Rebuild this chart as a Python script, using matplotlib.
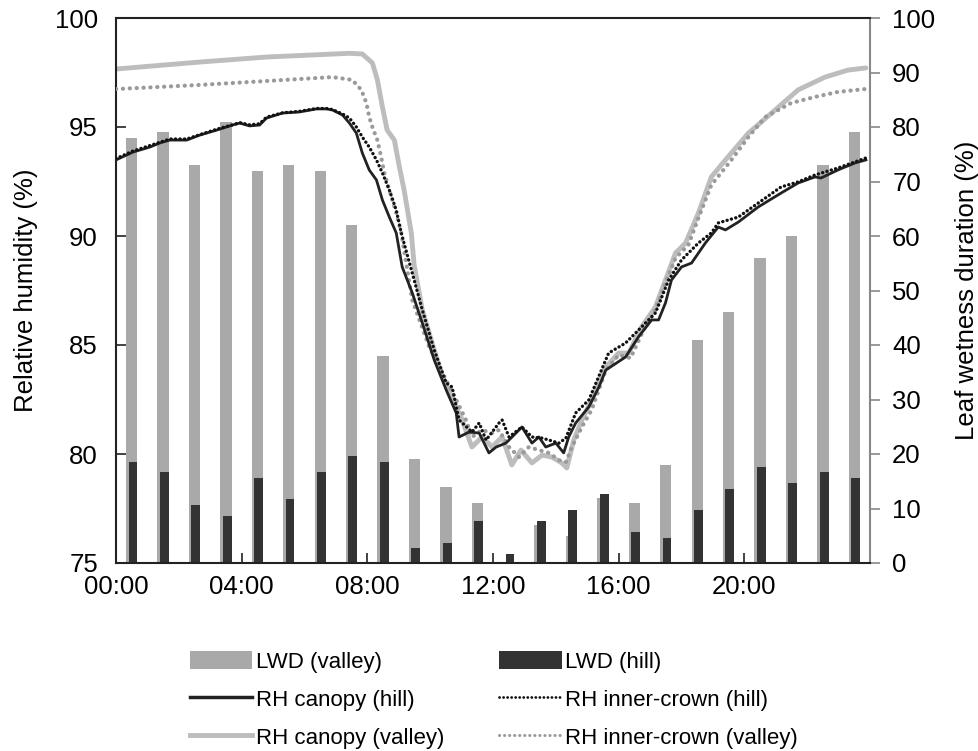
import matplotlib
matplotlib.use("Agg")
import matplotlib.pyplot as plt
from matplotlib.patches import Patch
from matplotlib.lines import Line2D
import numpy as np

plt.rcParams['font.family'] = ['Liberation Sans', 'DejaVu Sans']

# ---- data ----
hours = list(range(24))
lwd_valley = [78, 79, 73, 81, 72, 73, 72, 62, 38, 19, 14, 11, 0, 7, 5, 12,
              11, 18, 41, 46, 56, 60, 73, 79]
lwd_hill = [18.5, 16.7, 10.6, 8.6, 15.6, 11.7, 16.7, 19.6, 18.5, 2.7, 3.7, 7.7,
            1.7, 7.7, 9.7, 12.7, 5.7, 4.6, 9.7, 13.6, 17.6, 14.7, 16.7, 15.6]

# RH canopy (valley)
t_cv = [0, 2.67, 4.79, 7.43, 7.84, 8.16, 8.32, 8.48, 8.63, 8.86, 9.02, 9.17, 9.40,
        9.49, 9.75, 10.06, 10.35, 10.67, 10.98, 11.33, 11.65, 11.97, 12.29, 12.60,
        12.89, 13.24, 13.56, 13.87, 14.19, 14.35, 14.57, 14.83, 15.14, 15.59, 16.00,
        16.32, 16.73, 17.17, 17.49, 17.81, 18.13, 18.54, 18.95, 19.40, 20.13, 20.98,
        21.71, 22.57, 23.30, 23.87]
rh_cv = [97.66, 97.98, 98.21, 98.38, 98.35, 97.94, 97.16, 95.92, 94.86, 94.40, 93.17,
         92.11, 90.14, 88.67, 86.61, 85.09, 83.72, 82.61, 81.70, 80.32, 80.78, 80.32,
         80.78, 79.50, 80.18, 79.59, 79.95, 79.86, 79.59, 79.36, 80.64, 81.56, 82.48,
         83.99, 84.63, 84.63, 85.83, 86.74, 87.98, 89.22, 89.68, 91.06, 92.71, 93.49,
         94.72, 95.78, 96.70, 97.29, 97.61, 97.71]

# RH inner-crown (valley)
t_iv = [0, 2.67, 4.79, 6.89, 7.52, 7.81, 7.97, 8.06, 8.16, 8.32, 8.44, 8.54, 8.70,
        8.92, 9.08, 9.43, 9.97, 10.51, 10.83, 11.14, 11.33, 11.65, 11.97, 12.19, 12.51,
        12.83, 13.14, 13.46, 13.78, 14.10, 14.32, 14.51, 14.83, 15.14, 15.59, 16.00,
        16.38, 16.79, 17.17, 17.49, 17.81, 18.22, 18.54, 18.95, 19.59, 20.13, 20.67,
        21.49, 22.25, 22.98, 23.84]
rh_iv = [96.74, 96.93, 97.11, 97.29, 97.16, 96.70, 96.10, 95.46, 95.00, 94.40, 93.62,
         92.89, 92.11, 91.06, 90.14, 87.06, 84.91, 83.39, 82.48, 81.56, 80.78, 81.10,
         80.96, 81.10, 80.32, 79.86, 80.32, 80.18, 80.05, 79.72, 79.63, 80.32, 81.24,
         82.02, 83.85, 84.54, 84.40, 85.69, 86.61, 87.84, 88.99, 89.59, 90.83, 92.34,
         93.49, 94.54, 95.46, 96.10, 96.38, 96.61, 96.74]

# RH canopy (hill)
t_ch = [0, 0.54, 1.08, 1.40, 1.71, 2.25, 2.67, 3.21, 3.71, 3.94, 4.25, 4.57, 4.79,
        5.30, 5.84, 6.38, 6.70, 6.89, 7.21, 7.43, 7.65, 7.84, 8.06, 8.29, 8.48, 8.70,
        8.92, 9.11, 9.43, 9.75, 10.13, 10.51, 10.83, 10.92, 11.24, 11.56, 11.87, 12.10,
        12.41, 12.73, 12.92, 13.24, 13.46, 13.68, 14.00, 14.25, 14.41, 14.63, 15.05,
        15.37, 15.59, 16.22, 16.63, 17.05, 17.27, 17.49, 17.68, 18.00, 18.32, 18.76,
        19.17, 19.40, 19.81, 20.44, 21.17, 21.71, 22.25, 22.44, 22.98, 23.52, 23.87]
rh_ch = [93.49, 93.85, 94.08, 94.27, 94.40, 94.40, 94.63, 94.86, 95.09, 95.18, 95.05,
         95.09, 95.41, 95.64, 95.69, 95.83, 95.83, 95.78, 95.55, 95.18, 94.72, 93.81,
         93.03, 92.57, 91.65, 90.87, 90.14, 88.58, 87.39, 86.01, 84.31, 82.94, 81.88,
         80.78, 81.01, 80.96, 80.05, 80.32, 80.50, 80.96, 81.24, 80.50, 80.78, 80.32,
         80.50, 80.05, 80.78, 81.42, 82.16, 83.07, 83.85, 84.45, 85.37, 86.15, 86.15,
         86.93, 87.98, 88.58, 88.76, 89.68, 90.41, 90.28, 90.64, 91.33, 91.97, 92.43,
         92.71, 92.66, 93.03, 93.35, 93.49]

# RH inner-crown (hill)
t_ih = [0, 0.54, 1.08, 1.40, 1.71, 2.25, 2.67, 3.21, 3.71, 3.94, 4.25, 4.57, 4.79,
        5.30, 5.84, 6.38, 6.70, 6.89, 7.21, 7.43, 7.65, 7.84, 8.06, 8.29, 8.48, 8.70,
        8.92, 9.08, 9.43, 9.75, 10.13, 10.51, 10.70, 10.92, 11.33, 11.56, 11.78, 12.19,
        12.29, 12.51, 12.92, 13.24, 13.56, 13.78, 14.10, 14.32, 14.63, 15.05, 15.68,
        16.22, 16.73, 17.17, 17.59, 18.00, 18.54, 18.95, 19.17, 19.81, 20.44, 21.17,
        21.71, 22.25, 22.98, 23.87]
rh_ih = [93.55, 93.90, 94.15, 94.30, 94.45, 94.45, 94.65, 94.90, 95.10, 95.20, 95.10,
         95.15, 95.45, 95.65, 95.72, 95.85, 95.85, 95.80, 95.60, 95.41, 95.00, 94.54,
         94.08, 93.49, 92.89, 92.11, 91.19, 90.14, 88.30, 86.61, 84.77, 83.26, 83.07,
         81.56, 81.01, 81.42, 80.64, 81.42, 81.56, 80.78, 81.24, 80.78, 80.73, 80.64,
         80.50, 80.73, 81.88, 82.48, 84.63, 85.09, 85.83, 86.47, 87.98, 88.90, 89.68,
         90.14, 90.60, 90.87, 91.51, 92.25, 92.48, 92.80, 93.12, 93.58]

xtick_pos = [0, 4, 8, 12, 16, 20]
xtick_labels = ['00:00', '04:00', '08:00', '12:00', '16:00', '20:00']

# ---- figure ----
fig = plt.figure(figsize=(9.79, 7.51), dpi=100)
ax = fig.add_axes([116/979, 1-563/751, (870-116)/979, (563-18)/751])
ax2 = ax.twinx()
ax.set_zorder(ax2.get_zorder() + 1)
ax.patch.set_visible(False)

c_valley_bar = '#a9a9a9'
c_hill_bar = '#333333'
centers = np.array(hours) + 0.5
ax2.bar(centers, lwd_valley, width=0.36, color=c_valley_bar, align='center')
ax2.bar(centers + 0.04, lwd_hill, width=0.28, color=c_hill_bar, align='center')
ax2.set_ylim(0, 100)
ax2.set_yticks(range(0, 101, 10))

c_cv = '#bdbdbd'
c_iv = '#9a9a9a'
c_ch = '#222222'
ax.plot(t_cv, rh_cv, color=c_cv, lw=3.5, solid_capstyle='round', zorder=2)
ax.plot(t_iv, rh_iv, color=c_iv, lw=3.0, linestyle=(0, (0.05, 1.6)), dash_capstyle='round', zorder=3)
ax.plot(t_ch, rh_ch, color=c_ch, lw=2.0, zorder=4)
ax.plot(t_ih, rh_ih, color='#111111', lw=2.4, linestyle=(0, (0.05, 1.3)), dash_capstyle='round', zorder=5)

ax.set_xlim(0, 24)
ax.set_ylim(75, 100)
ax.set_yticks([75, 80, 85, 90, 95, 100])
ax.set_xticks(xtick_pos)
ax.set_xticklabels(xtick_labels)

fs = 18.5
ax.tick_params(axis='x', direction='in', length=7, width=1.2, labelsize=fs, pad=9, color='#222222')
ax.tick_params(axis='y', direction='in', length=7, width=1.2, labelsize=fs, pad=13, color='#222222')
ax2.tick_params(axis='y', direction='out', length=7, width=1.2, labelsize=fs, pad=9, color='#888888')

for s in ['left', 'bottom', 'top']:
    ax.spines[s].set_color('#222222')
    ax.spines[s].set_linewidth(1.5)
ax.spines['right'].set_visible(False)
for s in ['left', 'bottom', 'top']:
    ax2.spines[s].set_visible(False)
ax2.spines['right'].set_color('#888888')
ax2.spines['right'].set_linewidth(1.5)

ax.set_ylabel('Relative humidity (%)', fontsize=fs, labelpad=12)
ax2.set_ylabel('Leaf wetness duration (%)', fontsize=fs, labelpad=14)

handles = [
    Patch(facecolor=c_valley_bar, edgecolor='none', label='LWD (valley)'),
    Line2D([], [], color=c_ch, lw=2.5, label='RH canopy (hill)'),
    Line2D([], [], color=c_cv, lw=3.5, label='RH canopy (valley)'),
    Patch(facecolor=c_hill_bar, edgecolor='none', label='LWD (hill)'),
    Line2D([], [], color='#111111', lw=2.0, linestyle=(0, (0.05, 1.4)), dash_capstyle='round',
           label='RH inner-crown (hill)'),
    Line2D([], [], color=c_iv, lw=2.2, linestyle=(0, (0.05, 1.6)), dash_capstyle='round',
           label='RH inner-crown (valley)'),
]
leg = fig.legend(handles=handles, ncol=2, loc='upper left', bbox_to_anchor=(170/979, 1-631/751),
                 frameon=False, fontsize=16, handlelength=2.8, handleheight=0.9,
                 handletextpad=0.15, columnspacing=2.5, labelspacing=0.72)

fig.savefig('out.png', dpi=100)
